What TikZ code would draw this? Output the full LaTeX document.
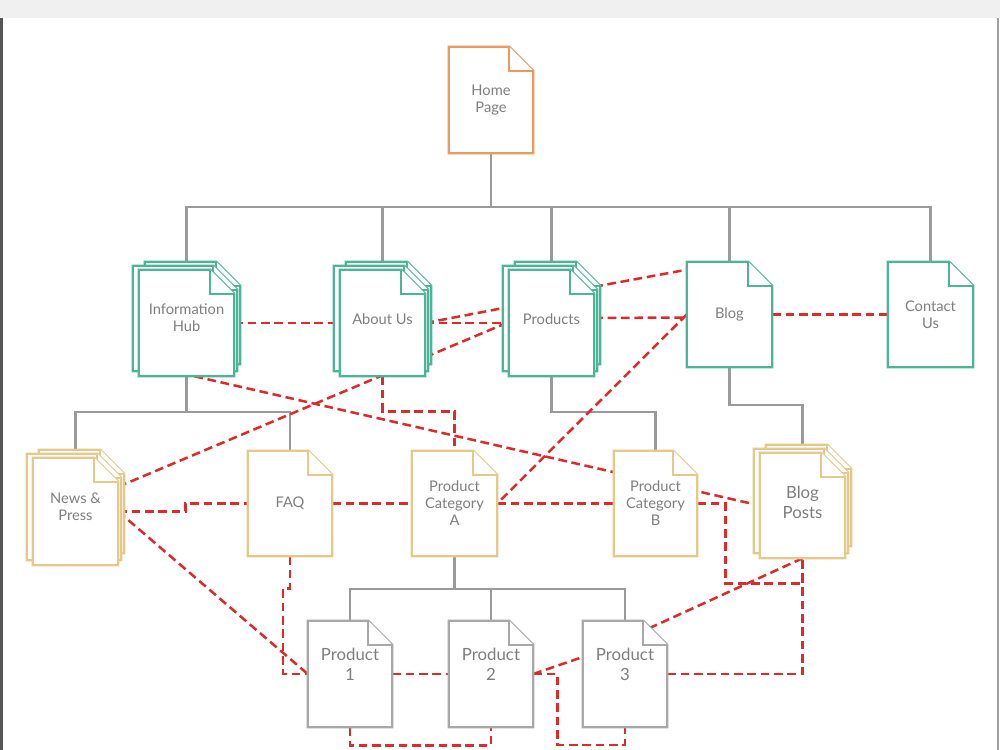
\documentclass[tikz,border=0pt]{standalone}
\usepackage{fontspec}
\setmainfont{Lato}
\usetikzlibrary{calc}
\definecolor{cOr}{HTML}{EC9A5C}
\definecolor{cTe}{HTML}{4DB597}
\definecolor{cTa}{HTML}{E5C88B}
\definecolor{cGr}{HTML}{A8A8A8}
\definecolor{cRed}{HTML}{DD2B2B}
\definecolor{cTree}{HTML}{9A9A9A}
\definecolor{cTxt}{HTML}{7F7F7F}
\definecolor{cBand}{HTML}{F0F0F0}
\definecolor{cEdgeL}{HTML}{555555}
\definecolor{cEdgeR}{HTML}{A0A0A0}
\pgfdeclarelayer{bg}\pgfdeclarelayer{docs}\pgfsetlayers{bg,docs,main}
\newcommand\docfrom[3]{%
  \coordinate (dNW) at (#2); \coordinate (dSE) at (#3);
  \coordinate (dNE) at (dNW -| dSE); \coordinate (dSW) at (dNW |- dSE);
  \filldraw[docline,draw=#1] (dNW) -- ($(dNE)+(-24,0)$) -- ($(dNE)+(0,24)$) -- (dSE) -- (dSW) -- cycle;
  \draw[docline,draw=#1] ($(dNE)+(-24,0)$) -- ($(dNE)+(-24,24)$) -- ($(dNE)+(0,24)$);}
\newcommand\singledoc[2]{\docfrom{#2}{#1.north west}{#1.south east}}
\newcommand\multidoc[2]{%
  \docfrom{#2}{$(#1.north west)+(6,-8)$}{$(#1.south east)+(6,-12)$}%
  \docfrom{#2}{$(#1.north west)+(-6,-4)$}{$(#1.south east)+(3,-5)$}%
  \docfrom{#2}{#1.north west}{#1.south east}}
\begin{document}
\begin{tikzpicture}[x=0.75pt,y=-0.75pt,
  tree/.style={draw=cTree, line width=1.6pt},
  link/.style={draw=cRed, line width=1.9pt, dash pattern=on 6.5pt off 3.5pt},
  docline/.style={line width=1.6pt, fill=white, line join=miter},
  doc/.style={draw=none, inner sep=0pt, minimum width=63.75pt, minimum height=79.5pt},
  lbl/.style={text=cTxt, align=center, font=\fontsize{11}{12.75}\selectfont},
  lblL/.style={text=cTxt, align=center, font=\fontsize{12.6}{15}\selectfont}]
\useasboundingbox (0,0) rectangle (1000,750);
% frame
\fill[cBand] (0,0) rectangle (1000,18);
\fill[cEdgeL] (0,18) rectangle (3,750);
\fill[cEdgeR] (996.5,18) rectangle (999,750);
% nodes
\node[doc, minimum width=63pt, label={[lbl]center:Home\\Page}] (hp) at (491,100) {};
\node[doc, minimum width=71.25pt, label={[lbl,yshift=3.75pt]center:Information\\Hub}] (ih) at (186.5,323) {};
\node[doc, label={[lbl,yshift=3pt]center:About Us}] (au) at (382.5,323) {};
\node[doc, label={[lbl,yshift=3pt]center:Products}] (pr) at (551.5,323) {};
\node[doc, minimum height=78.75pt, label={[lbl]center:Blog}] (bl) at (729.5,314.5) {};
\node[doc, minimum height=78.75pt, label={[lbl]center:Contact\\Us}] (cu) at (930.5,314.5) {};
\node[doc, minimum height=80.25pt, label={[lbl,yshift=3.4pt]center:News \&\\Press}] (np) at (75.5,511.5) {};
\node[doc, minimum width=63pt, minimum height=78.75pt, label={[lbl]center:FAQ}] (faq) at (290,503.5) {};
\node[doc, minimum height=78.75pt, label={[lbl]center:Product\\Category\\A}] (pca) at (454.5,503.5) {};
\node[doc, minimum width=62.25pt, minimum height=78.75pt, label={[lbl]center:Product\\Category\\B}] (pcb) at (655.5,503.5) {};
\node[doc, minimum height=78.75pt, label={[lblL,yshift=2.6pt]center:Blog\\Posts}] (bp) at (802.5,505.5) {};
\node[doc, minimum width=63pt, label={[lblL,yshift=7.5pt]center:Product\\1}] (p1) at (350,674) {};
\node[doc, minimum width=63pt, label={[lblL,yshift=7.5pt]center:Product\\2}] (p2) at (491,674) {};
\node[doc, minimum width=63pt, label={[lblL,yshift=7.5pt]center:Product\\3}] (p3) at (625,674) {};
% document shapes
\begin{pgfonlayer}{docs}
\singledoc{hp}{cOr}
\multidoc{ih}{cTe}
\multidoc{au}{cTe}
\multidoc{pr}{cTe}
\singledoc{bl}{cTe}
\singledoc{cu}{cTe}
\multidoc{np}{cTa}
\singledoc{faq}{cTa}
\singledoc{pca}{cTa}
\singledoc{pcb}{cTa}
\multidoc{bp}{cTa}
\singledoc{p1}{cGr}
\singledoc{p2}{cGr}
\singledoc{p3}{cGr}
\end{pgfonlayer}
% connectors
\begin{pgfonlayer}{bg}
\draw[tree] (hp.south) -- ++(0,54) coordinate (j1);
\draw[tree] (j1) -| (ih.north);
\draw[tree] (j1) -| (au.north);
\draw[tree] (j1) -| (pr.north);
\draw[tree] (j1) -| (bl.north);
\draw[tree] (j1) -| (cu.north);
\draw[tree] (ih.south) -- ++(0,36) coordinate (j2);
\draw[tree] (j2) -| (np.north);
\draw[tree] (j2) -| (faq.north);
\draw[tree] (pr.south) -- ++(0,36) -| (pcb.north);
\draw[tree] (bl.south) -- ++(0,38) -| (bp.north);
\draw[tree] (pca.south) -- ++(0,33) coordinate (j3);
\draw[tree] (j3) -| (p1.north);
\draw[tree] (j3) -| (p2.north);
\draw[tree] (j3) -| (p3.north);
%
\draw[link] (ih.east) -- (au.west);
\draw[link] (au.east) -- (pr.west);
\draw[link] (au.east) -- ($(pr.west)+(0,-16)$);
\draw[link] ($(np.north east)+(0,29)$) -- ($(pr.west)+(0,-1)$);
\draw[link] ($(pr.east)+(0,-5)$) -- ($(bl.west)+(0,3)$);
\draw[link] ($(pr.north east)+(0,17)$) -- ($(bl.north west)+(0,8)$);
\draw[link] (bl.west) -- (pca.east);
\draw[link] (bl.east) -- (cu.west);
\draw[link] ($(ih.south)+(8,0)$) -- (bp.west);
\draw[link] (au.south) -- ++(0,35) -| (pca.north);
\draw[link] (np.east) -- ++(67,0) |- (faq.west);
\draw[link] (faq.east) -- (pca.west);
\draw[link] (pca.east) -- (pcb.west);
\draw[link] (np.east) -- (p1.west);
\draw[link] (faq.south) -- ++(0,32) -- ++(-7,0) |- (p1.west);
\draw[link] (p1.east) -- (p2.west);
\draw[link] (p2.east) -- ($(p3.west)+(0,-17)$);
\draw[link] (p2.east) -- ++(24,0) -- ++(0,71) -| (p3.south);
\draw[link] (p1.south) -- ++(0,18) -| (p2.south);
\draw[link] (p3.east) -| (bp.south);
\draw[link] (pcb.east) -- ++(28,0) |- ($(bp.south)+(0,25)$) -- (bp.south);
\draw[link] (bp.south) -- ($(p3.north east)+(-17,7)$);
\end{pgfonlayer}
\end{tikzpicture}
\end{document}
